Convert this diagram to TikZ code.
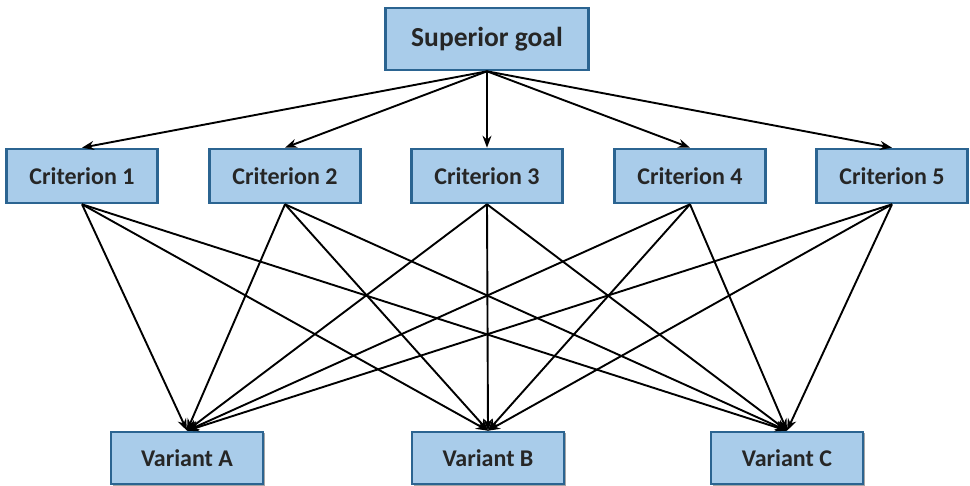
\documentclass[tikz,border=0pt]{standalone}
\usepackage{fontspec}
\setmainfont{Carlito}
\usetikzlibrary{arrows.meta,shadows}
\definecolor{boxfill}{HTML}{A9CCEA}
\definecolor{boxline}{HTML}{2B6491}
\begin{document}
\begin{tikzpicture}[x=1pt,y=-1pt,
  box/.style={draw=boxline, line width=2.6pt, fill=boxfill, minimum width=151pt, minimum height=54pt, inner sep=0pt,
    font=\bfseries\fontsize{24}{26}\selectfont, text=black!85,
    drop shadow={shadow xshift=1.5pt, shadow yshift=-1.5pt, opacity=0.35, fill=black}},
  conn/.style={line width=1.9pt, -{Stealth[length=12pt,width=9pt]}}]
\useasboundingbox (0,0) rectangle (970,486);
\node[box, minimum width=203pt, minimum height=62pt, font=\bfseries\fontsize{27.5}{30}\selectfont] (g) at (487,39) {Superior goal};
\node[box] (c1) at (82,176) {Criterion 1};
\node[box] (c2) at (285,176) {Criterion 2};
\node[box] (c3) at (487,176) {Criterion 3};
\node[box] (c4) at (690,176) {Criterion 4};
\node[box] (c5) at (892,176) {Criterion 5};
\node[box, minimum width=152pt, minimum height=52pt] (va) at (187,458) {Variant A};
\node[box, minimum width=152pt, minimum height=52pt] (vb) at (488,458) {Variant B};
\node[box, minimum width=152pt, minimum height=52pt] (vc) at (787,458) {Variant C};
\foreach \c in {c1,c2,c3,c4,c5}{
  \draw[conn] (g.south) -- (\c.north);
  \foreach \v in {va,vb,vc}{
    \draw[conn] (\c.south) -- (\v.north);
  }
}
\end{tikzpicture}
\end{document}
